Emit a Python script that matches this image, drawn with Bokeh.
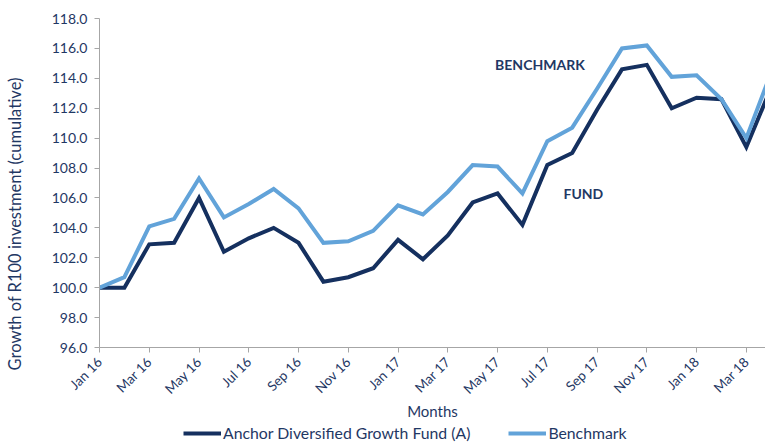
import math
from bokeh.plotting import figure
from bokeh.layouts import column, row
from bokeh.models import (ColumnDataSource, FixedTicker, Legend, LegendItem, Label, Div,
                          Range1d, NumeralTickFormatter)
from bokeh.embed import file_html
from bokeh.resources import INLINE

months = ["Jan 16", "Feb 16", "Mar 16", "Apr 16", "May 16", "Jun 16", "Jul 16", "Aug 16",
          "Sep 16", "Oct 16", "Nov 16", "Dec 16", "Jan 17", "Feb 17", "Mar 17", "Apr 17",
          "May 17", "Jun 17", "Jul 17", "Aug 17", "Sep 17", "Oct 17", "Nov 17", "Dec 17",
          "Jan 18", "Feb 18", "Mar 18", "Apr 18"]
fund = [100.0, 100.0, 102.9, 103.0, 106.0, 102.4, 103.3, 104.0, 103.0, 100.4, 100.7, 101.3,
        103.2, 101.9, 103.5, 105.7, 106.3, 104.2, 108.2, 109.0, 111.9, 114.6, 114.9, 112.0,
        112.7, 112.6, 109.4, 113.4]
bench = [100.0, 100.7, 104.1, 104.6, 107.3, 104.7, 105.6, 106.6, 105.3, 103.0, 103.1, 103.8,
         105.5, 104.9, 106.4, 108.2, 108.1, 106.3, 109.8, 110.7, 113.3, 116.0, 116.2, 114.1,
         114.2, 112.6, 110.0, 114.4]
y_ticks = [96, 98, 100, 102, 104, 106, 108, 110, 112, 114, 116, 118]
y_title = "Growth of R100 investment (cumulative)"

FONT = "Lato"
NAVY = "#1F3864"
FUND_C = "#15305F"
BENCH_C = "#62A3D9"
AXIS_C = "#A6A6A6"

idx = list(range(len(months)))
src = ColumnDataSource(dict(x=idx, fund=fund, bench=bench))

p = figure(width=735, height=422, output_backend="svg", toolbar_location=None,
           x_range=Range1d(0, 26.77), y_range=Range1d(96, 118),
           min_border_left=69, min_border_right=0, min_border_top=18, min_border_bottom=74)
p.outline_line_color = None
p.xgrid.visible = False
p.ygrid.visible = False

p.line("x", "fund", source=src, line_color=FUND_C, line_width=4, line_join="miter")
p.line("x", "bench", source=src, line_color=BENCH_C, line_width=4, line_join="miter")

# axes
p.yaxis.ticker = FixedTicker(ticks=y_ticks)
p.yaxis.formatter = NumeralTickFormatter(format="0.0")
p.xaxis.ticker = FixedTicker(ticks=idx[::2])
p.xaxis.major_label_overrides = {i: months[i] for i in idx}
p.xaxis.major_label_orientation = math.pi / 4
for ax in (p.xaxis, p.yaxis):
    ax.axis_line_color = AXIS_C
    ax.major_tick_line_color = AXIS_C
    ax.minor_tick_line_color = None
    ax.major_tick_in = 0
    ax.major_tick_out = 5
    ax.major_label_text_font = FONT
    ax.major_label_text_color = NAVY
    ax.axis_label_text_font = FONT
    ax.axis_label_text_color = NAVY
    ax.axis_label_text_font_style = "normal"
    ax.axis_label_text_font_size = "15px"
p.yaxis.major_label_text_font_size = "14px"
p.xaxis.major_label_text_font_size = "13.5px"
p.yaxis.major_label_standoff = 7
p.xaxis.major_label_standoff = 7
p.xaxis.axis_label = "Months"
p.xaxis.axis_label_standoff = -4

p.add_layout(Label(x=15.9, y=114.93, text="BENCHMARK", text_font=FONT, text_font_style="bold",
                   text_font_size="14px", text_color=NAVY, text_baseline="middle"))
p.add_layout(Label(x=18.65, y=106.33, text="FUND", text_font=FONT, text_font_style="bold",
                   text_font_size="14px", text_color=NAVY, text_baseline="middle"))

# legend strip
q = figure(width=735, height=20, output_backend="svg", toolbar_location=None,
           x_range=Range1d(0, 1), y_range=Range1d(0, 1),
           min_border_left=0, min_border_right=0, min_border_top=0, min_border_bottom=0)
q.axis.visible = False
q.grid.visible = False
q.outline_line_color = None
lf = q.line(x=[-5, -4], y=[-5, -5], line_color=FUND_C, line_width=4)
lb = q.line(x=[-5, -4], y=[-5, -5], line_color=BENCH_C, line_width=4)
legend = Legend(items=[LegendItem(label="Anchor Diversified Growth Fund (A)", renderers=[lf]),
                       LegendItem(label="Benchmark", renderers=[lb])],
                orientation="horizontal", location=(84, 0), border_line_color=None,
                background_fill_alpha=0,
                label_text_font=FONT, label_text_font_size="15.8px", label_text_color=NAVY,
                glyph_width=38, glyph_height=16, spacing=38, padding=0, margin=0,
                label_standoff=2)
q.add_layout(legend, "center")

# rotated y-axis title in a narrow strip on the left
ydiv = Div(text=('<div style="position:absolute; left:15px; top:224px; '
                 'transform:translate(-50%,-50%) rotate(-90deg); white-space:nowrap; '
                 f'font-family:{FONT}; font-size:16.5px; color:{NAVY}; line-height:1;">'
                 f'{y_title}</div>'),
           width=30, height=442, styles={"position": "relative", "overflow": "visible",
                                         "margin": "0", "padding": "0"})

layout = row(ydiv, column(p, q, spacing=0), spacing=0)
open("out.html", "w").write(file_html(layout, INLINE))
